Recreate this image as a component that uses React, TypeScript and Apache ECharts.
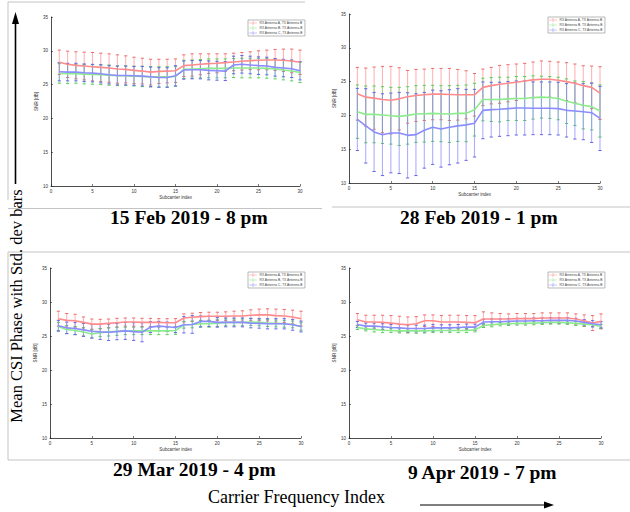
import React, { useEffect, useRef } from "react";
import * as echarts from "echarts";

// ---------- data ----------
const subcarrierIndex = [1, 2, 3, 4, 5, 6, 7, 8, 9, 10, 11, 12, 13, 14, 15, 16, 17, 18, 19, 20, 21, 22, 23, 24, 25, 26, 27, 28, 29, 30];
const seriesNames = ["RX Antenna A, TX Antenna B", "RX Antenna B, TX Antenna B", "RX Antenna C, TX Antenna B"];
const panelTitles = ["15 Feb 2019 - 8 pm", "28 Feb 2019 - 1 pm", "29 Mar 2019 - 4 pm", "9 Apr 2019 - 7 pm"];
const xAxisRange = [0, 30];
const xTickStep = 5;
const yAxisRange = [10, 35];
const yTickStep = 5;
const xAxisName = "Subcarrier index";
const yAxisName = "SNR [dB]";
const sideLabel = "Mean CSI Phase with Std. dev bars";
const bottomLabel = "Carrier Frequency Index";

// 15 Feb 2019 - 8 pm
const feb15A_mean = [28.3, 28.0, 27.85, 27.75, 27.65, 27.55, 27.45, 27.3, 27.25, 27.1, 27.0, 26.85, 26.95, 27.0, 27.05, 27.8, 27.9, 28.0, 28.1, 28.15, 28.25, 28.35, 28.45, 28.55, 28.6, 28.65, 28.65, 28.6, 28.5, 28.3];
const feb15A_std = [1.8, 1.95, 2.0, 2.05, 2.1, 2.1, 2.1, 2.1, 2.0, 1.95, 1.9, 1.9, 1.8, 1.75, 1.75, 1.6, 1.65, 1.55, 1.45, 1.4, 1.3, 1.3, 1.3, 1.3, 1.4, 1.45, 1.55, 1.65, 1.75, 1.8];
const feb15B_mean = [26.65, 26.6, 26.6, 26.55, 26.5, 26.45, 26.4, 26.3, 26.3, 26.25, 26.2, 26.15, 26.15, 26.15, 26.2, 27.25, 27.3, 27.35, 27.4, 27.4, 27.4, 27.45, 27.45, 27.45, 27.45, 27.4, 27.3, 27.15, 27.0, 26.8];
const feb15B_std = [1.45, 1.45, 1.4, 1.45, 1.45, 1.45, 1.5, 1.45, 1.45, 1.45, 1.5, 1.5, 1.5, 1.5, 1.45, 1.35, 1.35, 1.35, 1.4, 1.4, 1.4, 1.4, 1.45, 1.45, 1.45, 1.45, 1.45, 1.45, 1.45, 1.5];
const feb15C_mean = [26.9, 26.85, 26.85, 26.75, 26.7, 26.6, 26.45, 26.35, 26.35, 26.3, 26.25, 26.15, 26.05, 26.05, 26.3, 27.15, 27.2, 27.2, 27.1, 27.05, 27.0, 27.9, 28.0, 27.9, 27.8, 27.75, 27.55, 27.45, 27.35, 27.05];
const feb15C_std = [1.35, 1.3, 1.3, 1.3, 1.3, 1.35, 1.35, 1.4, 1.4, 1.4, 1.45, 1.45, 1.45, 1.45, 1.5, 1.35, 1.35, 1.35, 1.4, 1.4, 1.4, 1.3, 1.3, 1.3, 1.3, 1.3, 1.3, 1.3, 1.3, 1.35];

// 28 Feb 2019 - 1 pm
const feb28A_mean = [23.2, 22.7, 22.55, 22.35, 22.25, 22.45, 22.75, 22.95, 23.05, 23.15, 23.15, 23.1, 23.05, 23.05, 23.05, 24.15, 24.4, 24.6, 24.75, 24.9, 25.1, 25.25, 25.35, 25.35, 25.2, 25.0, 24.75, 24.4, 24.15, 23.3];
const feb28A_std = [3.9, 4.3, 4.6, 4.9, 5.0, 4.6, 3.9, 3.85, 3.8, 3.8, 3.8, 3.85, 3.75, 3.55, 3.15, 2.7, 2.7, 2.8, 2.75, 2.7, 2.6, 2.65, 2.7, 2.65, 2.7, 2.8, 2.85, 2.95, 3.15, 3.9];
const feb28B_mean = [20.55, 20.15, 20.15, 20.05, 19.95, 19.85, 20.0, 20.2, 20.25, 20.3, 20.25, 20.2, 20.3, 20.3, 20.85, 22.35, 22.35, 22.35, 22.45, 22.5, 22.5, 22.65, 22.7, 22.65, 22.5, 22.1, 21.8, 21.5, 21.3, 20.65];
const feb28B_std = [3.95, 4.2, 4.2, 4.2, 4.2, 4.3, 4.25, 4.2, 4.2, 4.15, 4.15, 4.2, 4.15, 4.2, 3.9, 3.15, 3.25, 3.3, 3.2, 3.25, 3.25, 3.2, 3.1, 3.1, 3.15, 3.3, 3.3, 3.5, 3.45, 3.85];
const feb28C_mean = [19.4, 18.45, 17.55, 17.15, 17.4, 17.4, 17.05, 17.15, 17.8, 18.25, 18.0, 18.25, 18.45, 18.6, 18.85, 20.75, 20.85, 20.9, 21.0, 21.1, 21.1, 21.05, 21.05, 21.05, 21.0, 20.75, 20.65, 20.55, 20.4, 19.55];
const feb28C_std = [4.6, 5.5, 5.85, 6.05, 5.9, 6.0, 6.3, 6.05, 5.6, 5.5, 5.65, 5.55, 5.5, 5.25, 5.0, 4.2, 4.05, 4.0, 4.0, 4.0, 4.0, 3.9, 3.9, 3.9, 3.9, 3.95, 4.15, 4.15, 4.4, 4.75];

// 29 Mar 2019 - 4 pm
const mar29A_mean = [27.55, 27.3, 27.25, 27.0, 26.75, 26.75, 26.85, 26.95, 27.05, 27.05, 27.0, 27.0, 27.0, 26.95, 26.95, 27.65, 27.75, 27.85, 27.9, 27.9, 27.9, 27.95, 27.95, 28.05, 28.1, 28.1, 28.0, 27.95, 27.8, 27.55];
const mar29A_std = [1.1, 1.0, 0.95, 0.8, 0.75, 0.7, 0.65, 0.65, 0.6, 0.6, 0.6, 0.6, 0.55, 0.6, 0.6, 0.6, 0.6, 0.6, 0.6, 0.6, 0.65, 0.7, 0.75, 0.8, 0.85, 0.9, 0.95, 0.95, 1.0, 1.1];
const mar29B_mean = [26.4, 25.95, 25.8, 25.6, 25.3, 25.5, 25.6, 25.7, 25.75, 25.75, 25.75, 25.75, 25.75, 25.75, 25.8, 26.65, 26.7, 26.8, 26.8, 26.9, 27.0, 27.0, 27.0, 27.05, 27.0, 26.9, 26.85, 26.8, 26.7, 26.4];
const mar29B_std = [0.6, 0.6, 0.6, 0.6, 0.6, 0.6, 0.6, 0.6, 0.55, 0.55, 0.55, 0.55, 0.55, 0.55, 0.55, 0.5, 0.5, 0.5, 0.5, 0.5, 0.5, 0.5, 0.5, 0.5, 0.5, 0.5, 0.5, 0.5, 0.5, 0.55];
const mar29C_mean = [26.5, 26.2, 26.1, 25.9, 25.7, 25.6, 25.55, 25.65, 25.75, 25.65, 25.55, 26.3, 26.45, 26.35, 26.25, 26.65, 26.7, 27.15, 27.15, 27.0, 27.0, 27.0, 27.0, 26.9, 26.85, 26.8, 26.8, 26.8, 26.65, 26.4];
const mar29C_std = [0.8, 0.85, 0.9, 0.95, 1.0, 1.1, 1.2, 1.2, 1.25, 1.3, 1.4, 0.8, 0.7, 0.7, 0.75, 1.2, 1.3, 0.8, 0.75, 0.7, 0.65, 0.65, 0.65, 0.7, 0.7, 0.75, 0.75, 0.75, 0.8, 0.8];

// 9 Apr 2019 - 7 pm
const apr09A_mean = [27.4, 27.05, 27.05, 27.0, 26.9, 26.75, 26.65, 26.8, 27.25, 27.25, 27.05, 27.05, 27.05, 27.0, 26.95, 27.5, 27.5, 27.5, 27.5, 27.55, 27.55, 27.55, 27.65, 27.65, 27.65, 27.65, 27.5, 27.25, 26.9, 27.15];
const apr09A_std = [0.9, 1.0, 1.0, 1.05, 1.1, 1.15, 1.15, 1.05, 0.85, 0.85, 0.95, 1.0, 1.0, 1.0, 1.05, 1.05, 0.9, 0.8, 0.75, 0.75, 0.75, 0.75, 0.75, 0.75, 0.75, 0.75, 0.75, 0.85, 1.1, 1.1];
const apr09B_mean = [26.25, 26.05, 25.95, 25.85, 25.8, 25.75, 25.75, 25.75, 25.75, 25.8, 25.8, 25.8, 25.8, 25.8, 25.9, 26.55, 26.65, 26.75, 26.8, 26.85, 26.85, 26.9, 26.95, 27.0, 27.0, 26.95, 26.85, 26.75, 26.65, 26.4];
const apr09B_std = [0.3, 0.3, 0.35, 0.35, 0.3, 0.3, 0.3, 0.35, 0.3, 0.3, 0.3, 0.3, 0.3, 0.3, 0.3, 0.3, 0.3, 0.25, 0.25, 0.25, 0.25, 0.25, 0.25, 0.25, 0.25, 0.25, 0.3, 0.3, 0.3, 0.3];
const apr09C_mean = [26.7, 26.45, 26.45, 26.35, 26.25, 26.2, 26.1, 26.1, 26.1, 26.2, 26.2, 26.2, 26.25, 26.3, 26.3, 27.05, 27.1, 27.1, 27.15, 27.2, 27.2, 27.25, 27.25, 27.3, 27.3, 27.3, 27.2, 27.0, 26.8, 26.65];
const apr09C_std = [0.45, 0.45, 0.45, 0.45, 0.45, 0.5, 0.5, 0.5, 0.5, 0.5, 0.45, 0.45, 0.45, 0.45, 0.45, 0.4, 0.4, 0.4, 0.4, 0.4, 0.4, 0.4, 0.4, 0.4, 0.4, 0.4, 0.4, 0.4, 0.45, 0.45];

const panelMeans = [
  [feb15A_mean, feb15B_mean, feb15C_mean],
  [feb28A_mean, feb28B_mean, feb28C_mean],
  [mar29A_mean, mar29B_mean, mar29C_mean],
  [apr09A_mean, apr09B_mean, apr09C_mean],
];
const panelStds = [
  [feb15A_std, feb15B_std, feb15C_std],
  [feb28A_std, feb28B_std, feb28C_std],
  [mar29A_std, mar29B_std, mar29C_std],
  [apr09A_std, apr09B_std, apr09C_std],
];

// ---------- layout / style ----------
const GRIDS = [
  { left: 51, top: 17, width: 249, height: 169 },
  { left: 349, top: 14, width: 251, height: 169 },
  { left: 50, top: 268, width: 251, height: 170 },
  { left: 349, top: 268, width: 252, height: 170 },
];
const LEGEND_POS = [
  { left: 248, top: 20 },
  { left: 548, top: 17 },
  { left: 248, top: 272 },
  { left: 548, top: 272 },
];
const TITLE_POS = [
  { x: 110, y: 217 },
  { x: 400, y: 217 },
  { x: 113, y: 469 },
  { x: 408, y: 472 },
];
const LINE_COLORS = ["#ff8c8c", "#8cec8c", "#8c8cff"];
const BAR_COLORS = ["rgba(255,130,130,0.6)", "rgba(110,225,110,0.6)", "rgba(120,120,255,0.6)"];
const CAP_COLORS = ["#ee6a6a", "#5ccc5c", "#6464e6"];
const BORDER = "#c4c4c4";
const SMALL_FONT = "Liberation Sans";

function errRenderItem(barColor: string, capColor: string) {
  return (params: any, api: any) => {
    const x = api.value(0);
    const lo = api.coord([x, api.value(1)]);
    const hi = api.coord([x, api.value(2)]);
    const w = 1.6;
    return {
      type: "group",
      children: [
        { type: "line", shape: { x1: lo[0], y1: lo[1], x2: hi[0], y2: hi[1] }, style: { stroke: barColor, lineWidth: 1.1 } },
        { type: "line", shape: { x1: lo[0] - w, y1: lo[1], x2: lo[0] + w, y2: lo[1] }, style: { stroke: capColor, lineWidth: 1 } },
        { type: "line", shape: { x1: hi[0] - w, y1: hi[1], x2: hi[0] + w, y2: hi[1] }, style: { stroke: capColor, lineWidth: 1 } },
      ],
    };
  };
}

function buildOption() {
  const grid = GRIDS.map((g) => ({ ...g, containLabel: false }));
  const xAxis = GRIDS.map((_, p) => ({
    type: "value",
    gridIndex: p,
    min: xAxisRange[0],
    max: xAxisRange[1],
    interval: xTickStep,
    name: xAxisName,
    nameLocation: "middle",
    nameGap: 9,
    nameTextStyle: { fontSize: 4.5, color: "#333", fontFamily: SMALL_FONT },
    axisLine: { show: true, lineStyle: { color: "#222", width: 0.8 } },
    axisTick: { show: true, inside: true, length: 2, lineStyle: { color: "#222", width: 0.6 } },
    axisLabel: { fontSize: 4.5, color: "#333", margin: 3, fontFamily: SMALL_FONT },
    splitLine: { show: false },
  }));
  const yAxis = GRIDS.map((_, p) => ({
    type: "value",
    gridIndex: p,
    min: yAxisRange[0],
    max: yAxisRange[1],
    interval: yTickStep,
    name: yAxisName,
    nameLocation: "middle",
    nameGap: 8,
    nameRotate: 90,
    nameTextStyle: { fontSize: 4.5, color: "#333", fontFamily: SMALL_FONT },
    axisLine: { show: true, lineStyle: { color: "#222", width: 0.8 } },
    axisTick: { show: true, inside: true, length: 2, lineStyle: { color: "#222", width: 0.6 } },
    axisLabel: { fontSize: 4.5, color: "#333", margin: 3, fontFamily: SMALL_FONT },
    splitLine: { show: false },
  }));
  const series: any[] = [];
  panelMeans.forEach((means, p) => {
    means.forEach((m, s) => {
      const sd = panelStds[p][s];
      series.push({
        type: "custom",
        name: seriesNames[s],
        xAxisIndex: p,
        yAxisIndex: p,
        z: 2,
        renderItem: errRenderItem(BAR_COLORS[s], CAP_COLORS[s]),
        encode: { x: 0, y: [1, 2] },
        data: subcarrierIndex.map((xi, i) => [xi, m[i] - sd[i], m[i] + sd[i]]),
        itemStyle: { color: LINE_COLORS[s] },
        silent: true,
      });
    });
    means.forEach((m, s) => {
      series.push({
        type: "line",
        name: seriesNames[s],
        xAxisIndex: p,
        yAxisIndex: p,
        z: 3,
        symbol: "none",
        data: subcarrierIndex.map((xi, i) => [xi, m[i]]),
        lineStyle: { color: LINE_COLORS[s], width: 1.6 },
        itemStyle: { color: LINE_COLORS[s] },
        silent: true,
      });
    });
  });
  const legend = LEGEND_POS.map((pos) => ({
    ...pos,
    data: seriesNames,
    orient: "vertical",
    itemWidth: 9,
    itemHeight: 4,
    itemGap: 1,
    selectedMode: false,
    icon: "path://M0,4.3H20V5.7H0Z M9.3,0H10.7V10H9.3Z",
    backgroundColor: "#fff",
    borderColor: "#8a8a8a",
    borderWidth: 0.6,
    borderRadius: 0,
    padding: [1, 2, 1, 1],
    textStyle: { fontSize: 3.3, color: "#444", fontFamily: SMALL_FONT, padding: [0, 0, 0, -3] },
  }));

  const graphic: any[] = [
    // panel borders
    { type: "line", shape: { x1: 8, y1: 2, x2: 305, y2: 2 }, style: { stroke: BORDER, lineWidth: 1 } },
    { type: "line", shape: { x1: 8, y1: 2, x2: 8, y2: 200 }, style: { stroke: BORDER, lineWidth: 1 } },
    { type: "line", shape: { x1: 8, y1: 208.5, x2: 322, y2: 208.5 }, style: { stroke: BORDER, lineWidth: 1 } },
    { type: "line", shape: { x1: 332, y1: 207, x2: 630, y2: 207 }, style: { stroke: BORDER, lineWidth: 1 } },
    { type: "line", shape: { x1: 8, y1: 252, x2: 630, y2: 252 }, style: { stroke: BORDER, lineWidth: 1 } },
    { type: "line", shape: { x1: 8, y1: 252, x2: 8, y2: 460 }, style: { stroke: BORDER, lineWidth: 1 } },
    { type: "line", shape: { x1: 8, y1: 460, x2: 630, y2: 460 }, style: { stroke: BORDER, lineWidth: 1 } },
    // vertical arrow
    { type: "line", shape: { x1: 15.5, y1: 184, x2: 15.5, y2: 22 }, style: { stroke: "#000", lineWidth: 1.6 } },
    { type: "polygon", shape: { points: [[15.5, 12], [12, 24], [19, 24]] }, style: { fill: "#000" } },
    // horizontal arrow
    { type: "line", shape: { x1: 420, y1: 505, x2: 546, y2: 505 }, style: { stroke: "#000", lineWidth: 1.2 } },
    { type: "polygon", shape: { points: [[554, 505], [544, 501.5], [544, 508.5]] }, style: { fill: "#000" } },
    // side label
    {
      type: "text",
      x: 16,
      y: 306,
      rotation: Math.PI / 2,
      style: { text: sideLabel, font: '16.5px "Liberation Serif"', fill: "#000", textAlign: "center", textVerticalAlign: "middle" },
    },
    // bottom label
    {
      type: "text",
      x: 208,
      y: 497,
      style: { text: bottomLabel, font: '18px "Liberation Serif"', fill: "#000", textAlign: "left", textVerticalAlign: "middle" },
    },
  ];
  panelTitles.forEach((t, p) => {
    graphic.push({
      type: "text",
      x: TITLE_POS[p].x,
      y: TITLE_POS[p].y,
      style: { text: t, font: 'bold 19.5px "Liberation Serif"', fill: "#000", textAlign: "left", textVerticalAlign: "middle" },
    });
  });

  return {
    animation: false,
    backgroundColor: "#fff",
    grid,
    xAxis,
    yAxis,
    legend,
    series,
    graphic,
  };
}

export default function App() {
  const ref = useRef<HTMLDivElement>(null);
  useEffect(() => {
    if (!ref.current) return;
    const chart = echarts.init(ref.current, null, { renderer: "svg", width: 630, height: 512 });
    chart.setOption(buildOption() as any);
    return () => chart.dispose();
  }, []);
  return <div ref={ref} style={{ position: "absolute", left: 0, top: 0, width: 630, height: 512, background: "#fff" }} />;
}
